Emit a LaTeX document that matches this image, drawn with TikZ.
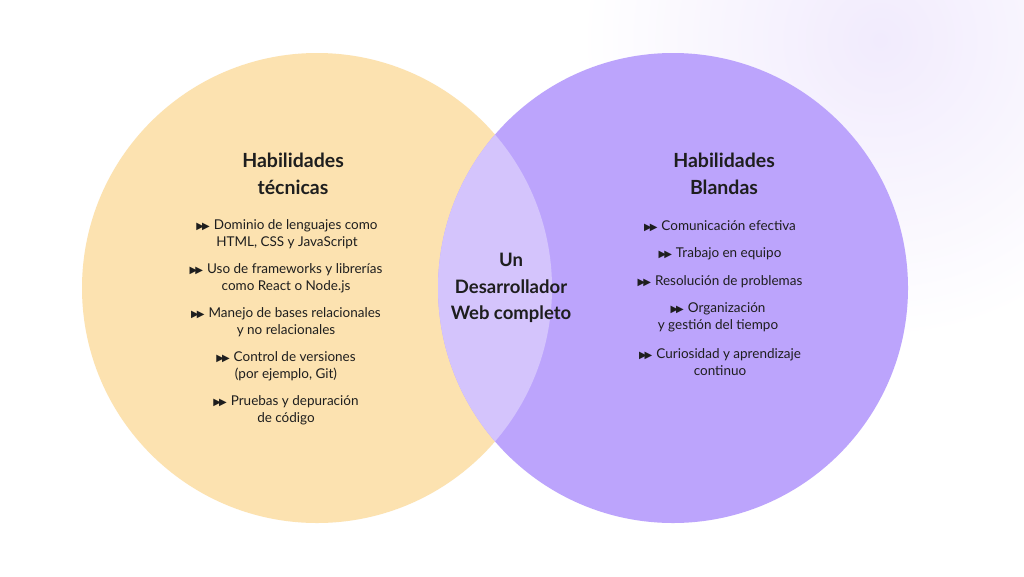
\documentclass[tikz,border=0pt]{standalone}
\usepackage{fontspec}
\setmainfont{Lato}
\newfontfamily\dejavu{DejaVu Sans}
\newcommand{\bul}{{\dejavu\fontsize{10}{10}\selectfont ▶\kern-2pt▶}\hspace{4pt}}
\begin{document}
\begin{tikzpicture}[x=1pt,y=-1pt]
\definecolor{bg}{HTML}{F1EBFD}
\definecolor{yel}{HTML}{FCE2B0}
\definecolor{pur}{HTML}{BCA4FC}
\definecolor{mix}{HTML}{D4C4FC}
\definecolor{ink}{HTML}{1E1E1E}
\tikzset{
 ttl/.style={font=\fontsize{19.5}{27}\selectfont\bfseries, text=ink, align=center},
 itm/.style={font=\fontsize{13.5}{17}\selectfont, text=ink, align=center},
}
\useasboundingbox (0,0) rectangle (1024,576);
\begin{scope}
\clip (0,0) rectangle (1024,576);
\fill[white] (0,0) rectangle (1024,576);
\shade[inner color=bg, outer color=white] (880,40) circle (300);
\end{scope}
\fill[yel] (317,288) circle (235);
\fill[pur] (673,288) circle (235);
\begin{scope}
\clip (317,288) circle (235);
\fill[mix] (673,288) circle (235);
\end{scope}
\node[ttl] (lt) at (293,174) {Habilidades\\técnicas};
\node[ttl] (rt) at (724,174) {Habilidades\\Blandas};
\node[ttl,font=\fontsize{18.5}{26.5}\selectfont\bfseries] (c) at (511,288) {Un\\Desarrollador\\Web completo};
\node[itm] (l1) at (287,234) {\bul Dominio de lenguajes como\\HTML, CSS y JavaScript};
\node[itm] (l2) at (286,278) {\bul Uso de frameworks y librerías\\como React o Node.js};
\node[itm] (l3) at (286,322) {\bul Manejo de bases relacionales\\y no relacionales};
\node[itm] (l4) at (286,366) {\bul Control de versiones\\(por ejemplo, Git)};
\node[itm] (l5) at (286,410) {\bul Pruebas y depuración\\de código};
\node[itm] (r1) at (720,226) {\bul Comunicación efectiva};
\node[itm] (r2) at (720,254) {\bul Trabajo en equipo};
\node[itm] (r3) at (720,282) {\bul Resolución de problemas};
\node[itm] (r4) at (718,317) {\bul Organización\\y gestión del tiempo};
\node[itm] (r5) at (720,362) {\bul Curiosidad y aprendizaje\\continuo};
\end{tikzpicture}
\end{document}
